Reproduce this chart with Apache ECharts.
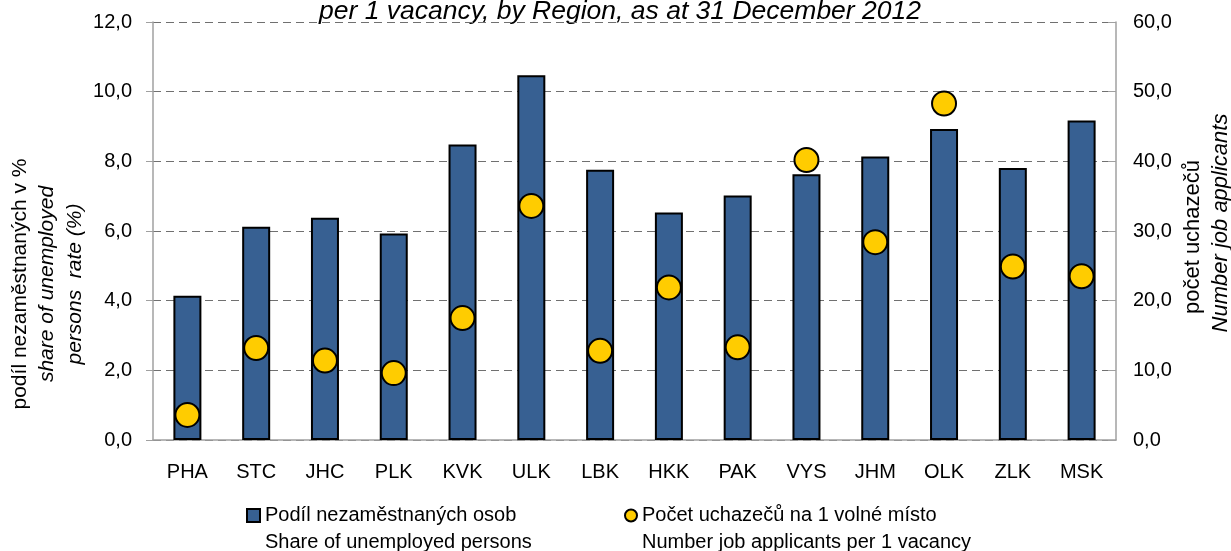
<!DOCTYPE html>
<html>
<head>
<meta charset="utf-8">
<title>Podíl nezaměstnaných osob</title>
<script src="https://cdn.jsdelivr.net/npm/echarts@6/dist/echarts.min.js"></script>
<style>
html, body { margin: 0; padding: 0; background: #fff; }
#chart { width: 1231px; height: 551px; }
</style>
</head>
<body>
<div id="chart"></div>
<script>
// data
var regions = ['PHA', 'STC', 'JHC', 'PLK', 'KVK', 'ULK', 'LBK', 'HKK', 'PAK', 'VYS', 'JHM', 'OLK', 'ZLK', 'MSK'];
var shareUnemployed = [4.14, 6.12, 6.38, 5.93, 8.48, 10.47, 7.76, 6.53, 7.02, 7.63, 8.14, 8.93, 7.81, 9.17];
var applicantsPerVacancy = [3.6, 13.2, 11.4, 9.6, 17.5, 33.6, 12.8, 21.9, 13.3, 40.2, 28.4, 48.3, 24.9, 23.5];

var barName = ['Podíl nezaměstnaných osob', 'Share of unemployed persons'];
var dotName = ['Počet uchazečů na 1 volné místo', 'Number job applicants per 1 vacancy'];

var FONT = '"Liberation Sans", Arial, sans-serif';
var AXIS_GREY = '#a0a0a0';

function comma(v) {
	return v.toFixed(1).replace('.', ',');
}

// 2 line legend text, icon lined up with the first line
function legendText(name) {
	var lines = name.split('\n');
	return '{l1|' + lines[0] + '}\n{l2|' + lines[1] + '}';
}
var legendRich = {
	l1: { fontSize: 20, lineHeight: 53, color: '#000', fontFamily: FONT },
	l2: { fontSize: 20, lineHeight: 1, color: '#000', fontFamily: FONT }
};

var chart = echarts.init(document.getElementById('chart'));

var option = {
	animation: false,
	textStyle: { fontFamily: FONT, color: '#000' },
	grid: { left: 153, right: 115, top: 22, bottom: 111 },
	legend: [
		{
			data: [{ name: barName.join('\n'), icon: 'rect' }],
			left: 241, top: 500,
			itemWidth: 13, itemHeight: 13,
			formatter: legendText,
			textStyle: { rich: legendRich }
		},
		{
			data: [{ name: dotName.join('\n'), icon: 'circle' }],
			left: 619, top: 500,
			itemWidth: 12, itemHeight: 12,
			formatter: legendText,
			textStyle: { rich: legendRich }
		}
	],
	xAxis: {
		type: 'category',
		data: regions,
		axisLine: { lineStyle: { color: AXIS_GREY, width: 1.5 } },
		axisTick: { length: 6, lineStyle: { color: AXIS_GREY } },
		axisLabel: { fontSize: 20, color: '#000', margin: 22 }
	},
	yAxis: [
		{
			type: 'value',
			min: 0, max: 12, interval: 2,
			axisLine: { show: true, lineStyle: { color: AXIS_GREY, width: 1.5 } },
			axisTick: { show: true, length: 7, lineStyle: { color: AXIS_GREY } },
			axisLabel: { fontSize: 20, color: '#000', margin: 21, formatter: comma },
			splitLine: { lineStyle: { color: '#707070', type: [8, 5], width: 1 } }
		},
		{
			type: 'value',
			min: 0, max: 60, interval: 10,
			axisLine: { show: true, lineStyle: { color: AXIS_GREY, width: 1.5 } },
			axisTick: { show: true, inside: true, length: 8, lineStyle: { color: AXIS_GREY } },
			axisLabel: { fontSize: 20, color: '#000', margin: 17, formatter: comma },
			splitLine: { show: false }
		}
	],
	series: [
		{
			name: barName.join('\n'),
			type: 'bar',
			data: shareUnemployed,
			barWidth: 28,
			itemStyle: { color: '#376092', borderColor: '#000', borderWidth: 2 }
		},
		{
			name: dotName.join('\n'),
			type: 'scatter',
			yAxisIndex: 1,
			data: applicantsPerVacancy,
			symbolSize: 24,
			z: 5,
			itemStyle: { color: '#ffcc00', borderColor: '#000', borderWidth: 2, opacity: 1 }
		}
	],
	graphic: [
		{
			type: 'text', x: 620, y: 12,
			style: { text: 'per 1 vacancy, by Region, as at 31 December 2012', font: 'italic 26.5px ' + FONT, fill: '#000', align: 'center', verticalAlign: 'middle' }
		},
		{
			type: 'text', x: 20, y: 284, rotation: Math.PI / 2,
			style: { text: 'podíl nezaměstnaných v %', font: '21px ' + FONT, fill: '#000', align: 'center', verticalAlign: 'middle' }
		},
		{
			type: 'text', x: 47, y: 284, rotation: Math.PI / 2,
			style: { text: 'share of unemployed', font: 'italic 21px ' + FONT, fill: '#000', align: 'center', verticalAlign: 'middle' }
		},
		{
			type: 'text', x: 75, y: 284, rotation: Math.PI / 2,
			style: { text: 'persons  rate (%)', font: 'italic 21px ' + FONT, fill: '#000', align: 'center', verticalAlign: 'middle' }
		},
		{
			type: 'text', x: 1193, y: 237, rotation: Math.PI / 2,
			style: { text: 'počet uchazečů', font: '22px ' + FONT, fill: '#000', align: 'center', verticalAlign: 'middle' }
		},
		{
			type: 'text', x: 1221, y: 223, rotation: Math.PI / 2,
			style: { text: 'Number job applicants', font: 'italic 22px ' + FONT, fill: '#000', align: 'center', verticalAlign: 'middle' }
		}
	]
};

chart.setOption(option);
</script>
</body>
</html>
